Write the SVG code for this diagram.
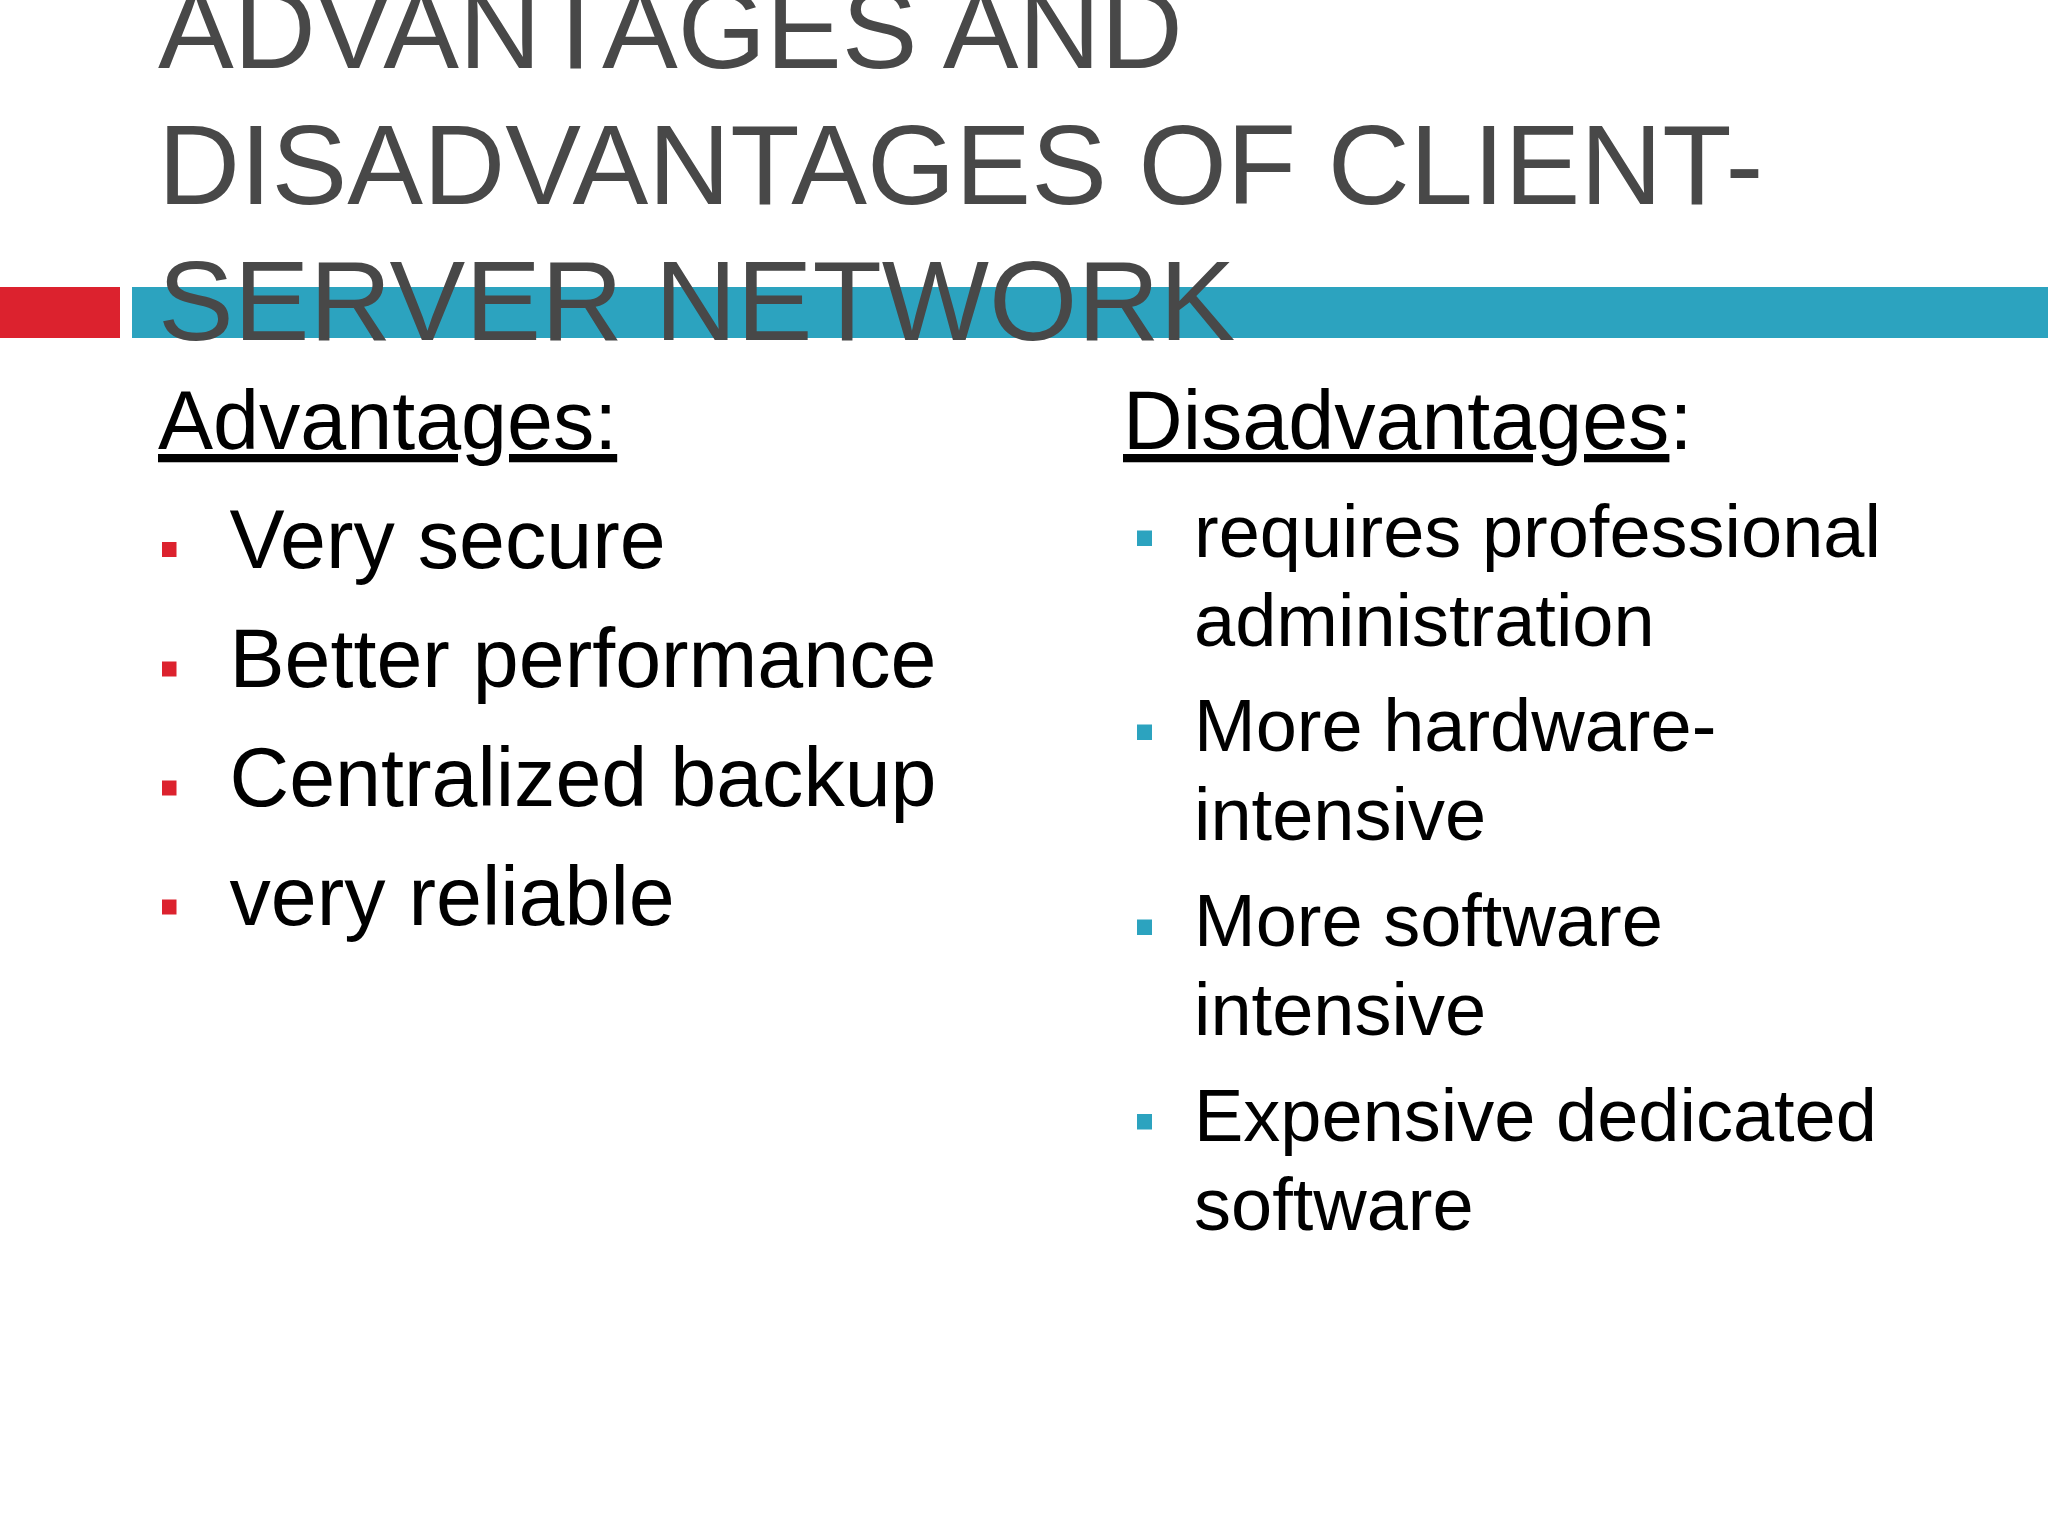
<svg xmlns="http://www.w3.org/2000/svg" width="2048" height="1536" viewBox="0 0 2048 1536">
<style>
text{font-family:"Liberation Sans",Arial,sans-serif}
.t{font-size:113.6px;fill:#484848}
.h{font-size:82.6px;fill:#000}
.a{font-size:82.6px;fill:#000}
.d{font-size:74px;fill:#000}
.u{text-decoration:underline}
.r{fill:#dc222e}
.b{fill:#2ca3bf}
</style>
<rect width="2048" height="1536" fill="#fff"/>
<g id="banner"><rect class="r" x="0" y="287" width="120" height="51"/><rect class="b" x="132" y="287" width="1916" height="51"/></g>
<g id="title">
<text class="t" x="158" y="68">ADVANTAGES AND</text>
<text class="t" x="158" y="204">DISADVANTAGES OF CLIENT-</text>
<text class="t" x="158" y="340">SERVER NETWORK</text>
</g>
<g id="advantages">
<text class="h u" x="158" y="449">Advantages:</text>
<rect class="r" x="162" y="542" width="14.500" height="15"/><text class="a" x="229.500" y="568">Very secure</text>
<rect class="r" x="162" y="661.500" width="14.500" height="15"/><text class="a" x="229.500" y="687">Better performance</text>
<rect class="r" x="162" y="780.500" width="14.500" height="15"/><text class="a" x="229.500" y="806">Centralized backup</text>
<rect class="r" x="162" y="899.500" width="14.500" height="15"/><text class="a" x="229.500" y="925">very reliable</text>
</g>
<g id="disadvantages">
<text class="h" x="1123" y="449"><tspan class="u">Disadvantages</tspan>:</text>
<rect class="b" x="1137" y="530.500" width="15" height="15.500"/><text class="d" x="1194" y="556.500">requires professional</text><text class="d" x="1194" y="645.500">administration</text>
<rect class="b" x="1137" y="724.500" width="15" height="15.500"/><text class="d" x="1194" y="751">More hardware-</text><text class="d" x="1194" y="840">intensive</text>
<rect class="b" x="1137" y="919.500" width="15" height="15.500"/><text class="d" x="1194" y="946">More software</text><text class="d" x="1194" y="1035">intensive</text>
<rect class="b" x="1137" y="1114" width="15" height="15.500"/><text class="d" x="1194" y="1140.500">Expensive dedicated</text><text class="d" x="1194" y="1229.500">software</text>
</g>
</svg>
